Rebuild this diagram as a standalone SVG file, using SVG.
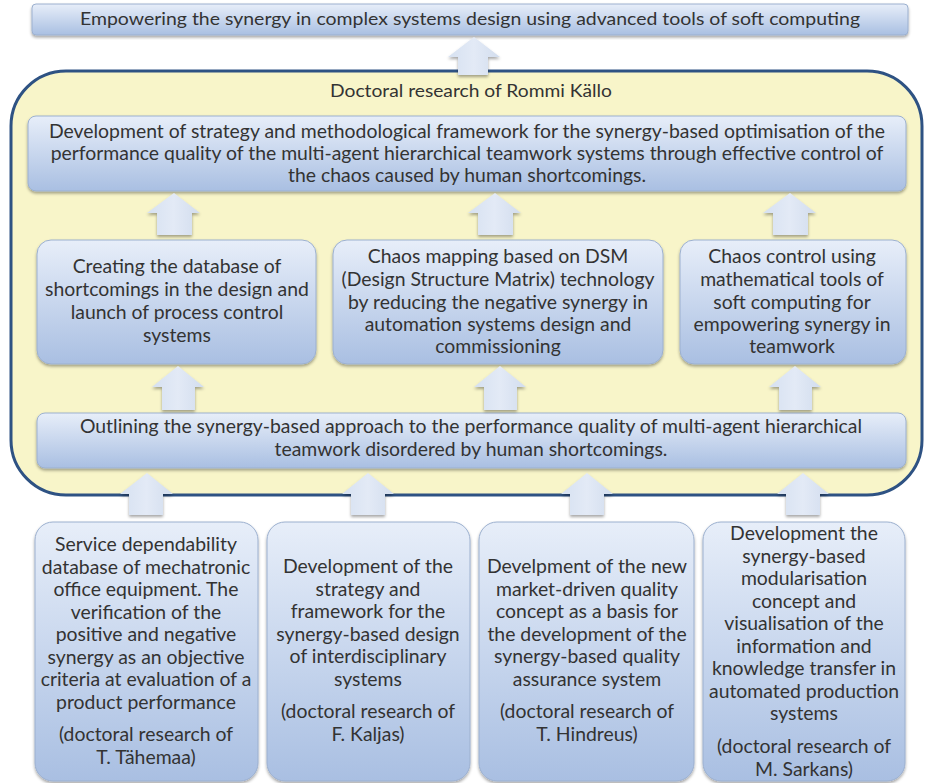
<svg xmlns="http://www.w3.org/2000/svg" width="926" height="783" viewBox="0 0 926 783">
  <defs>
    <linearGradient id="boxFill" x1="0" y1="0" x2="0" y2="1">
      <stop offset="0" stop-color="#E7EEF9"/>
      <stop offset="1" stop-color="#A9BFE2"/>
    </linearGradient>
    <linearGradient id="arrowFill" x1="0" y1="0" x2="1" y2="0">
      <stop offset="0" stop-color="#D6E1F1"/>
      <stop offset="0.5" stop-color="#E3EAF6"/>
      <stop offset="1" stop-color="#D2DDEE"/>
    </linearGradient>
    <filter id="shadow" x="-5%" y="-10%" width="110%" height="125%">
      <feDropShadow dx="0" dy="2" stdDeviation="1.5" flood-color="#000" flood-opacity="0.35"/>
    </filter>
    <style>
      .box { fill: url(#boxFill); stroke: #9CB0CF; stroke-width: 1; filter: url(#shadow); }
      .arrow { fill: url(#arrowFill); stroke: none; filter: url(#shadow); }
      .frame { fill: #F8F5C9; stroke: #2E5283; stroke-width: 3; }
      text { font-family: Lato, "Open Sans", sans-serif; fill: #333333; text-anchor: middle; }
      .t16 { font-size: 18px; }
      .t17 { font-size: 19.4px; }
    </style>
  </defs>

  <!-- research frame -->
  <g id="frame">
    <rect class="frame" x="11" y="71" width="911" height="424" rx="55"/>
    <text class="t16" x="471" y="97" textLength="282" lengthAdjust="spacingAndGlyphs">Doctoral research of Rommi Källo</text>
  </g>

  <!-- goal -->
  <g id="goal">
    <rect class="box" x="32" y="4" width="876" height="31" rx="4"/>
    <text class="t16" x="470" y="25" textLength="780" lengthAdjust="spacingAndGlyphs">Empowering the synergy in complex systems design using advanced tools of soft computing</text>
  </g>

  <g id="framework">
    <rect class="box" x="28" y="116" width="878" height="75" rx="8"/>
    <text class="t17" x="467" y="138">Development of strategy and methodological framework for the synergy-based optimisation of the</text>
    <text class="t17" x="467" y="160">performance quality of the multi-agent hierarchical teamwork systems through effective control of</text>
    <text class="t17" x="467" y="182">the chaos caused by human shortcomings.</text>
  </g>

  <g id="database">
    <rect class="box" x="37" y="240" width="279" height="124" rx="14"/>
    <text class="t17" x="177" y="273">Creating the database of</text>
    <text class="t17" x="177" y="296">shortcomings in the design and</text>
    <text class="t17" x="177" y="319">launch of process control</text>
    <text class="t17" x="177" y="342">systems</text>
  </g>

  <g id="mapping">
    <rect class="box" x="333" y="240" width="330" height="124" rx="14"/>
    <text class="t17" x="498" y="263">Chaos mapping based on DSM</text>
    <text class="t17" x="498" y="286">(Design Structure Matrix) technology</text>
    <text class="t17" x="498" y="309">by reducing the negative synergy in</text>
    <text class="t17" x="498" y="331">automation systems design and</text>
    <text class="t17" x="498" y="353">commissioning</text>
  </g>

  <g id="control">
    <rect class="box" x="680" y="240" width="226" height="124" rx="14"/>
    <text class="t17" x="792" y="263">Chaos control using</text>
    <text class="t17" x="792" y="286">mathematical tools of</text>
    <text class="t17" x="792" y="309">soft computing for</text>
    <text class="t17" x="792" y="331">empowering synergy in</text>
    <text class="t17" x="792" y="353">teamwork</text>
  </g>

  <g id="approach">
    <rect class="box" x="37" y="413" width="869" height="55" rx="8"/>
    <text class="t17" x="471" y="433">Outlining the synergy-based approach to the performance quality of multi-agent hierarchical</text>
    <text class="t17" x="471" y="456">teamwork disordered by human shortcomings.</text>
  </g>

  <g id="tahemaa">
    <rect class="box" x="35" y="522" width="223" height="259" rx="18"/>
    <text class="t17" x="146" y="551">Service dependability</text>
    <text class="t17" x="146" y="573.5">database of mechatronic</text>
    <text class="t17" x="146" y="596">office equipment. The</text>
    <text class="t17" x="146" y="618.5">verification of the</text>
    <text class="t17" x="146" y="641">positive and negative</text>
    <text class="t17" x="146" y="663.5">synergy as an objective</text>
    <text class="t17" x="146" y="686">criteria at evaluation of a</text>
    <text class="t17" x="146" y="708.5">product performance</text>
    <text class="t17" x="146" y="741">(doctoral research of</text>
    <text class="t17" x="146" y="763.5">T. Tähemaa)</text>
  </g>

  <g id="kaljas">
    <rect class="box" x="267" y="522" width="203" height="259" rx="18"/>
    <text class="t17" x="368" y="573">Development of the</text>
    <text class="t17" x="368" y="595.5">strategy and</text>
    <text class="t17" x="368" y="618">framework for the</text>
    <text class="t17" x="368" y="640.5">synergy-based design</text>
    <text class="t17" x="368" y="663">of interdisciplinary</text>
    <text class="t17" x="368" y="685.5">systems</text>
    <text class="t17" x="368" y="718">(doctoral research of</text>
    <text class="t17" x="368" y="740.5">F. Kaljas)</text>
  </g>

  <g id="hindreus">
    <rect class="box" x="479" y="522" width="215" height="259" rx="18"/>
    <text class="t17" x="587" y="573">Develpment of the new</text>
    <text class="t17" x="587" y="595.5">market-driven quality</text>
    <text class="t17" x="587" y="618">concept as a basis for</text>
    <text class="t17" x="587" y="640.5">the development of the</text>
    <text class="t17" x="587" y="663">synergy-based quality</text>
    <text class="t17" x="587" y="685.5">assurance system</text>
    <text class="t17" x="587" y="718">(doctoral research of</text>
    <text class="t17" x="587" y="740.5">T. Hindreus)</text>
  </g>

  <g id="sarkans">
    <rect class="box" x="703" y="522" width="202" height="259" rx="18"/>
    <text class="t17" x="804" y="540">Development the</text>
    <text class="t17" x="804" y="562.5">synergy-based</text>
    <text class="t17" x="804" y="585">modularisation</text>
    <text class="t17" x="804" y="607.5">concept and</text>
    <text class="t17" x="804" y="630">visualisation of the</text>
    <text class="t17" x="804" y="652.5">information and</text>
    <text class="t17" x="804" y="675">knowledge transfer in</text>
    <text class="t17" x="804" y="697.5">automated production</text>
    <text class="t17" x="804" y="720">systems</text>
    <text class="t17" x="804" y="753">(doctoral research of</text>
    <text class="t17" x="804" y="775.5">M. Sarkans)</text>
  </g>

  <!-- block arrows -->
  <g id="connectors">
    <path class="arrow" d="M474 37 L500 57 L488 57 L488 75 L458 75 L458 57 L448 57 Z"/>
    <path class="arrow" d="M174 193 L200 213 L192 213 L192 235 L157 235 L157 213 L147 213 Z"/>
    <path class="arrow" d="M495 193 L521 213 L513 213 L513 235 L478 235 L478 213 L468 213 Z"/>
    <path class="arrow" d="M790 193 L816 213 L808 213 L808 235 L773 235 L773 213 L763 213 Z"/>
    <path class="arrow" d="M178 366 L204 387 L195 387 L195 410 L162 410 L162 387 L152 387 Z"/>
    <path class="arrow" d="M500 366 L526 387 L517 387 L517 410 L484 410 L484 387 L474 387 Z"/>
    <path class="arrow" d="M795 366 L821 387 L812 387 L812 410 L779 410 L779 387 L769 387 Z"/>
    <path class="arrow" d="M147 473 L173 494 L163 494 L163 515 L129 515 L129 494 L120 494 Z"/>
    <path class="arrow" d="M368 473 L394 494 L385 494 L385 515 L351 515 L351 494 L342 494 Z"/>
    <path class="arrow" d="M587 473 L613 494 L604 494 L604 515 L570 515 L570 494 L561 494 Z"/>
    <path class="arrow" d="M803 473 L829 494 L820 494 L820 515 L786 515 L786 494 L777 494 Z"/>
  </g>
</svg>
